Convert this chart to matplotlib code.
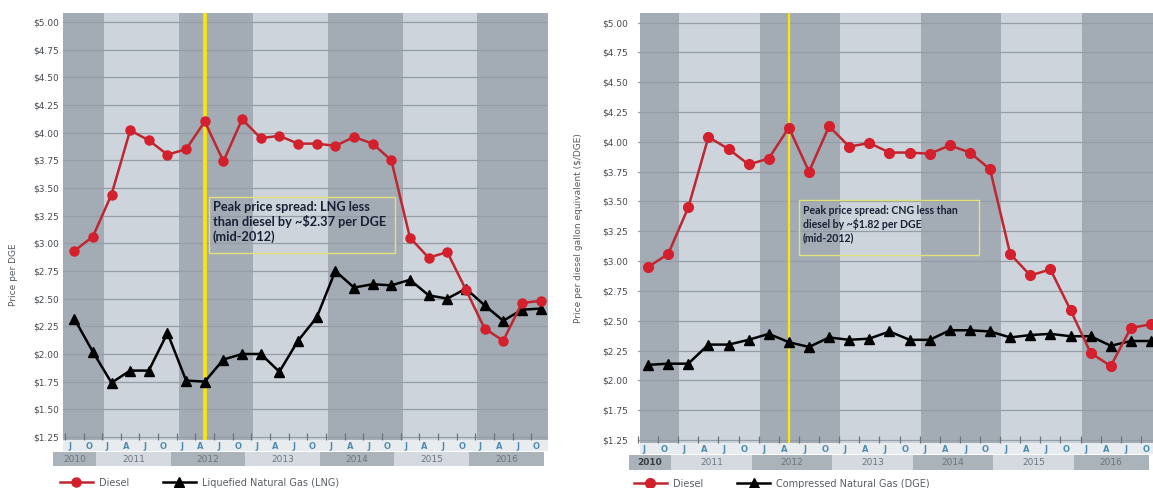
import numpy as np
import matplotlib.pyplot as plt
import matplotlib.transforms as mtransforms
from matplotlib.patches import Rectangle

# Quarterly data, Jul 2010 .. Oct 2016
quarters = ['J', 'O'] + ['J', 'A', 'J', 'O'] * 6
years = ['2010', '2011', '2012', '2013', '2014', '2015', '2016']
year_first_q = [0, 2, 6, 10, 14, 18, 22]

diesel_left = [2.93, 3.06, 3.44, 4.02, 3.93, 3.80, 3.85, 4.10, 3.74, 4.12, 3.95, 3.97, 3.90,
               3.90, 3.88, 3.96, 3.90, 3.75, 3.05, 2.87, 2.92, 2.58, 2.23, 2.12, 2.46, 2.48]
lng = [2.32, 2.02, 1.74, 1.85, 1.85, 2.19, 1.76, 1.75, 1.95, 2.00, 2.00, 1.84, 2.12,
       2.33, 2.75, 2.60, 2.63, 2.62, 2.67, 2.53, 2.50, 2.59, 2.44, 2.30, 2.40, 2.41]

diesel_right = [2.95, 3.06, 3.45, 4.04, 3.94, 3.81, 3.86, 4.12, 3.75, 4.13, 3.96, 3.99, 3.91,
                3.91, 3.90, 3.97, 3.91, 3.77, 3.06, 2.88, 2.93, 2.59, 2.23, 2.12, 2.44, 2.47]
cng = [2.13, 2.14, 2.14, 2.30, 2.30, 2.34, 2.39, 2.32, 2.28, 2.36, 2.34, 2.35, 2.41,
       2.34, 2.34, 2.42, 2.42, 2.41, 2.36, 2.38, 2.39, 2.37, 2.37, 2.29, 2.33, 2.33]

DARK = '#a3acb5'
LIGHT = '#cdd4db'
ROW_DARK = '#aab2ba'
ROW_LIGHT = '#d5dae0'
RED = '#d41f2c'
LETTER = '#4d8db0'

fig = plt.figure(figsize=(11.53, 4.88), dpi=100)
ax1 = fig.add_axes([63 / 1153, 1 - 440 / 488, 485 / 1153, 427 / 488])
ax2 = fig.add_axes([638 / 1153, 1 - 443 / 488, 515 / 1153, 430 / 488])


def draw_panel(ax, diesel, gas, gas_label, xlim, ylim, band_off, row_off, yticks, ylabels,
               ylabel, ylab_pos, vline_w, box, box_text, box_fs, ms, leg_pos, bold2010):
    x = np.arange(len(diesel))
    ax.set_xlim(*xlim)
    ax.set_ylim(*ylim)
    # year shading
    edges = [xlim[0]] + [q + band_off for q in year_first_q[1:]] + [xlim[1]]
    for i in range(len(years)):
        ax.axvspan(edges[i], edges[i + 1], color=DARK if i % 2 == 0 else LIGHT, lw=0, zorder=0)
    for yt in yticks:
        ax.axhline(yt, color='#959ea7', lw=0.9, zorder=1)
    ax.axvline(7, color='#ffe600', lw=vline_w, zorder=2)

    ax.plot(x, diesel, color='#bf2630', lw=1.8, marker='o', ms=ms, mfc=RED, mec=RED, zorder=4,
            label='Diesel')
    ax.plot(x, gas, color='black', lw=1.8, marker='^', ms=ms, mfc='black', mec='black', zorder=3,
            label=gas_label)

    # annotation box
    ax.add_patch(Rectangle((box[0], box[2]), box[1] - box[0], box[3] - box[2], fill=False,
                           ec='#e3e27a', lw=1.0, zorder=5))
    ax.text(box[0] + 0.2, box[3] - 0.04, box_text, ha='left', va='top', fontsize=box_fs,
            fontweight='bold', color='#182036', family='Lato', linespacing=1.2, zorder=6)

    for s in ax.spines.values():
        s.set_visible(False)
    ax.set_yticks(yticks)
    ax.set_yticklabels(ylabels, fontsize=6.5, color='#454a50')
    ax.tick_params(axis='y', length=0, pad=3 if bold2010 is False else 7)
    ax.set_ylabel(ylabel, fontsize=6.5, color='#555b61')
    ax.yaxis.set_label_coords(*ylab_pos)

    # quarter ticks and letters
    ax.set_xticks(x - 0.22)
    ax.set_xticklabels(quarters, fontsize=6, color=LETTER, fontweight='bold')
    ax.tick_params(axis='x', length=0, pad=1.5)
    ax.set_xticks(np.arange(-0.5, xlim[1], 1.0), minor=True)
    ax.tick_params(axis='x', which='minor', direction='in', length=5, color='#6b737b', width=0.9)

    tr = mtransforms.blended_transform_factory(ax.transData, ax.transAxes)
    ax.add_patch(Rectangle((xlim[0], -0.026), xlim[1] - xlim[0], 0.026, transform=tr,
                           color='#e8ecef', lw=0, clip_on=False, zorder=0))
    redges = [xlim[0] - 0.55] + [q + row_off for q in year_first_q[1:]] + [xlim[1] - 0.2]
    for i, yr in enumerate(years):
        ax.add_patch(Rectangle((redges[i], -0.062), redges[i + 1] - redges[i], 0.034,
                               transform=tr, color=ROW_DARK if i % 2 == 0 else ROW_LIGHT,
                               lw=0, clip_on=False, zorder=0))
        strong = bold2010 and i == 0
        ax.text((redges[i] + redges[i + 1]) / 2, -0.045, yr, transform=tr, ha='center',
                va='center', fontsize=6.5, color='#3b3f44' if strong else '#6c7680',
                fontweight='bold' if strong else 'normal')

    ax.legend(loc='center left', bbox_to_anchor=leg_pos, ncol=2, frameon=False, fontsize=7,
              labelcolor='#5a5f66', handlelength=3.4, columnspacing=3.5, handletextpad=0.6)


draw_panel(ax1, diesel_left, lng, 'Liquefied Natural Gas (LNG)',
           xlim=(-0.6, 25.4), ylim=(1.223, 5.08), band_off=-0.4, row_off=-0.83,
           yticks=np.arange(1.25, 5.01, 0.25),
           ylabels=['$%.2f' % v for v in np.arange(1.25, 5.01, 0.25)],
           ylabel='Price per DGE', ylab_pos=(-0.093, 0.386), vline_w=2.6,
           box=(7.24, 17.2, 2.91, 3.42),
           box_text='Peak price spread: LNG less\nthan diesel by ~$2.37 per DGE\n(mid-2012)',
           box_fs=9.2, ms=6.5, leg_pos=(-0.025, -0.1), bold2010=False)

# right chart's bottom tick is labelled $1.25 in the source
right_ticks = np.arange(1.50, 5.01, 0.25)
right_labels = ['$1.25'] + ['$%.2f' % v for v in right_ticks[1:]]
draw_panel(ax2, diesel_right, cng, 'Compressed Natural Gas (DGE)',
           xlim=(-0.4, 25.1), ylim=(1.475, 5.08), band_off=-0.45, row_off=-0.85,
           yticks=right_ticks, ylabels=right_labels,
           ylabel='Price per diesel gallon equivalent ($/DGE)', ylab_pos=(-0.107, 0.5),
           vline_w=1.6, box=(7.48, 16.43, 3.05, 3.51),
           box_text='Peak price spread: CNG less than\ndiesel by ~$1.82 per DGE\n(mid-2012)',
           box_fs=7.6, ms=7, leg_pos=(-0.025, -0.095), bold2010=True)

fig.savefig('out.png', dpi=100)
